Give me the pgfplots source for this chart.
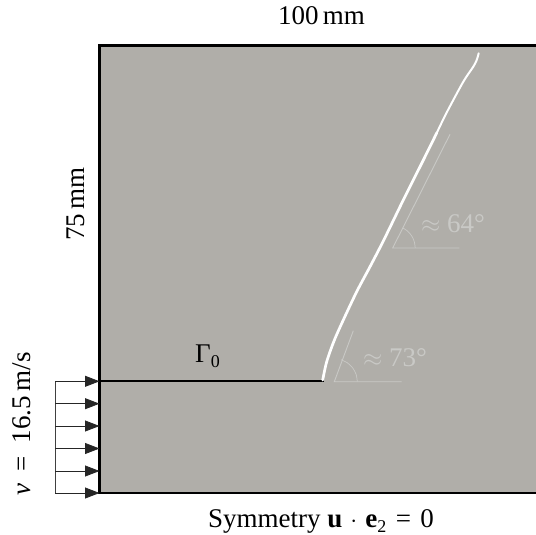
\documentclass[border=0pt]{standalone}
\usepackage{pgfplots}
\pgfplotsset{compat=1.18}
\usepackage{fontspec}
\setmainfont{Liberation Serif}
\usetikzlibrary{arrows.meta}
\definecolor{plate}{HTML}{B0AEA9}
\definecolor{ann}{HTML}{C9C9C6}
\newcommand{\lab}{\fontsize{27bp}{29bp}\selectfont}
\newcommand{\subn}[1]{\raisebox{-0.2em}{\fontsize{18bp}{18bp}\selectfont #1}}
\begin{document}
\begin{tikzpicture}
\useasboundingbox (0,0) rectangle (536bp,535bp);
\begin{axis}[
  scale only axis, width=536bp, height=535bp,
  xmin=0, xmax=536, ymin=0, ymax=535, y dir=reverse,
  hide axis, clip=true,
]
\addplot[draw=none, fill=plate, forget plot] coordinates {(99.5,45.5) (536,45.5) (536,493) (99.5,493)} --cycle;
% plate border
\addplot[black, line width=2.4bp] coordinates {(536,45.5) (99.5,45.5) (99.5,493) (536,493)};
% initial crack
\addplot[black, line width=2.4bp] coordinates {(99.5,381) (323.5,381)};
% load arrows
\addplot[black!75, line width=0.8bp] coordinates {(55,381.3) (55,493)};
\foreach \y in {381.3,403.7,426,448.5,471,493}{
  \edef\tmp{\noexpand\addplot[black!85, line width=0.8bp, -{Triangle[length=14.5bp,width=11bp]}] coordinates {(55,\y) (99.5,\y)};}
  \tmp
}
% crack path
\addplot[white, line width=2.7bp, smooth, line cap=round] coordinates {
 (322.7,380) (326.7,361.7) (334,341) (343.3,320) (356.7,291.7) (370,266.7)
 (383.3,241) (403.3,200) (415,176.7) (426.7,153.3) (436.7,133)};
\addplot[white, line width=2bp, smooth, line cap=round] coordinates {
 (436.7,133) (446.7,112.5)
 (463.3,81.7) (473.3,66.7) (476.7,60) (478.7,53.3)};
% angle 64
\addplot[ann, line width=0.9bp] coordinates {(459.3,248) (392.7,248) (450,134.3)};
\addplot[ann, line width=0.7bp, smooth] coordinates {(415.2,248) (414.3,241.8) (411.8,236.1) (407.8,231.3) (402.6,227.8)};
% angle 73
\addplot[ann, line width=0.9bp] coordinates {(401.7,381.7) (334.3,381.7) (353.3,330.7)};
\addplot[ann, line width=0.7bp, smooth] coordinates {(357.3,381.7) (356.2,374.6) (352.9,368.2) (347.5,362.9) (341,359.7)};
\end{axis}
\begin{axis}[
  scale only axis, width=536bp, height=535bp,
  xmin=0, xmax=536, ymin=0, ymax=535, y dir=reverse,
  hide axis, clip=false,
]
\node[font=\lab,anchor=base,inner sep=0pt] at (axis cs:321.5,25) {100\,mm};
\node[rotate=90,font=\lab,anchor=base,inner sep=0pt] at (axis cs:84,204) {75\,mm};
\node[rotate=90,font=\lab,anchor=base,inner sep=0pt] at (axis cs:30,424) {\textit{v}\hspace{0.47em}=\hspace{0.47em}16.5\,m/s};
\node[font=\lab,anchor=base,inner sep=0pt] at (axis cs:321,527) {Symmetry \textbf{u}\hspace{0.3em}$\cdot$\hspace{0.3em}\textbf{e}\subn{2}\hspace{0.35em}=\hspace{0.35em}0};
\node[font=\lab,anchor=base,inner sep=0pt] at (axis cs:207.5,362) {Γ\subn{0}};
\node[text=ann,font=\lab,anchor=base,inner sep=0pt] at (axis cs:453,232.7) {$\approx$\hspace{0.25em}64°};
\node[text=ann,font=\lab,anchor=base,inner sep=0pt] at (axis cs:395,366.7) {$\approx$\hspace{0.25em}73°};
\end{axis}
\end{tikzpicture}
\end{document}
